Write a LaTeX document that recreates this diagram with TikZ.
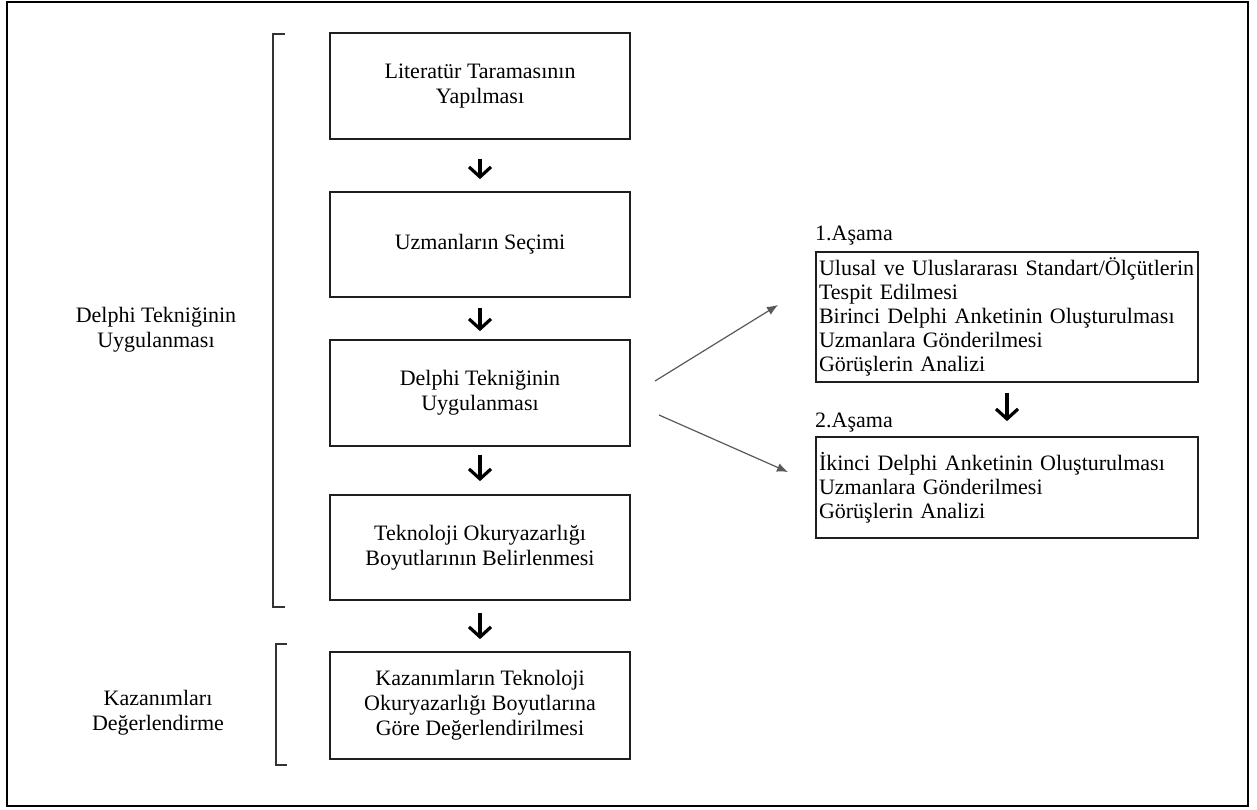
\documentclass[tikz,border=0pt]{standalone}
\usepackage{fontspec}
\setmainfont{Liberation Serif}
\usetikzlibrary{arrows.meta,calc}
\begin{document}
\begin{tikzpicture}[x=1pt,y=-1pt,
  txt/.style={font=\fontsize{22}{25}\selectfont, align=center, inner sep=0pt},
  box/.style={txt, draw=black!88, line width=1.8pt, minimum width=300pt},
  rbox/.style={draw=black!88, line width=1.8pt, font={\fontsize{22}{23.8}\selectfont\hyphenpenalty=10000\relax},
    align=left, text width=376pt, inner xsep=3pt, inner ysep=0pt, minimum width=382pt},
  downarr/.style={line width=3.2pt, -{Straight Barb[length=10pt,width=22pt]}},
  diag/.style={line width=1.2pt, draw=black!65, -{Latex[length=11pt,width=9pt]}},
  brk/.style={line width=2pt, draw=black!80},
]
\useasboundingbox (0,0) rectangle (1257,809);
\draw[line width=2.5pt] (7,2) rectangle (1248,806);

% main column
\node[box, minimum height=106pt] (b1) at (480,86) {Literatür Taramasının\\Yapılması};
\node[box, minimum height=105pt] (b2) at (480,244.5) {Uzmanların Seçimi};
\node[box, minimum height=106pt] (b3) at (480,393) {Delphi Tekniğinin\\Uygulanması};
\node[box, minimum height=105pt] (b4) at (480,547.5) {Teknoloji Okuryazarlığı\\Boyutlarının Belirlenmesi};
\node[box, minimum height=107pt] (b5) at (480,705.5) {Kazanımların Teknoloji\\Okuryazarlığı Boyutlarına\\Göre Değerlendirilmesi};

\draw[downarr, shorten <=19pt, shorten >=12pt] (b1) -- (b2);
\draw[downarr, shorten <=10pt, shorten >=8pt] (b2) -- (b3);
\draw[downarr, shorten <=8pt, shorten >=13pt] (b3) -- (b4);
\draw[downarr, shorten <=12pt, shorten >=12pt] (b4) -- (b5);

% brackets and left labels
\draw[brk] (285,34) -- (273,34) -- (273,607) -- (285,607);
\draw[brk] (287,644) -- (276,644) -- (276,765) -- (287,765);
\node[txt] (l1) at (156,330) {Delphi Tekniğinin\\Uygulanması};
\node[txt] (l2) at (158,713) {Kazanımları\\Değerlendirme};

% right side
\node[rbox, minimum height=130pt] (ra) at (1007,317) {\mbox{Ulusal ve Uluslararası Standart/Ölçütlerin}\\Tespit Edilmesi\\Birinci Delphi Anketinin Oluşturulması\\Uzmanlara Gönderilmesi\\Görüşlerin Analizi};
\node[rbox, minimum height=101pt] (rb) at (1007,487.5) {İkinci Delphi Anketinin Oluşturulması\\Uzmanlara Gönderilmesi\\Görüşlerin Analizi};
\node[txt, anchor=base west] (s1) at (815,240) {1.Aşama};
\node[txt, anchor=base west] (s2) at (815,427) {2.Aşama};
\draw[downarr, shorten <=10pt, shorten >=15pt] (ra) -- (rb);

\coordinate (u0) at (655,381);
\coordinate (u1) at (778,305);
\coordinate (d0) at (659,415);
\coordinate (d1) at (788,472);
\draw[diag] (u0) -- (u1);
\draw[diag] (d0) -- (d1);
\end{tikzpicture}
\end{document}
